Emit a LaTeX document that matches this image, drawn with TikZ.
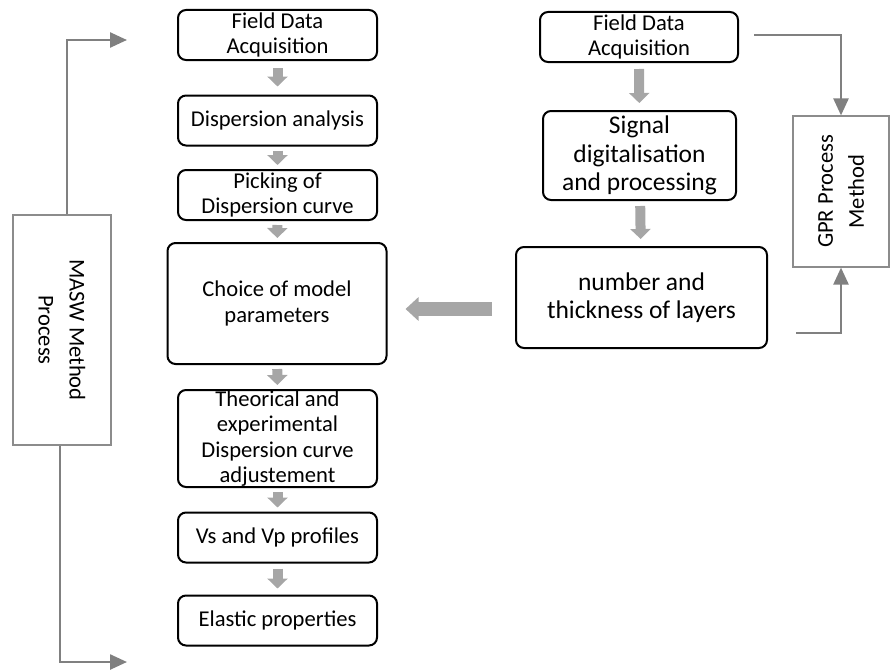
\documentclass[tikz,border=0pt]{standalone}
\usepackage{fontspec}
\setmainfont{Carlito}
\usetikzlibrary{arrows.meta,calc}

\tikzset{
  stage/.style={draw, line width=2pt, rounded corners=8pt, align=center, inner sep=0pt,
    minimum width=199pt, minimum height=50pt, font=\fontsize{22.6}{25.5}\selectfont},
  bigstage/.style={stage, font=\fontsize{25.5}{28.3}\selectfont},
  method/.style={draw=black!45, line width=1.2pt, align=center, inner sep=0pt,
    font=\fontsize{22.6}{31}\selectfont},
  flow/.style={draw=black!35, line width=10pt, -{Triangle[width=20pt,length=10pt]}},
  link/.style={draw=black!50, line width=2.5pt, -{Triangle[width=15pt,length=17pt]}},
}

\begin{document}
\begin{tikzpicture}[x=1pt,y=-1pt]
      \useasboundingbox (0,0) rectangle (890,669);
      % MASW
      \node[stage] (acq) at (277.5,35) {Field Data\\Acquisition};
      \node[stage] (disp) at (277.5,120.5) {Dispersion analysis};
      \node[stage] (pick) at (277.5,195) {Picking of\\Dispersion curve};
      \node[stage, minimum width=219pt, minimum height=121pt] (model) at (277,303.5) {Choice of model\\parameters};
      \node[stage, minimum height=97pt] (fit) at (277.5,438.5) {Theorical and\\experimental\\Dispersion curve\\adjustement};
      \node[stage] (prof) at (277.5,537.5) {Vs and Vp profiles};
      \node[stage] (elas) at (277.5,620.5) {Elastic properties};
      \draw[flow, shorten <=7pt, shorten >=8pt] (acq) -- (disp);
      \foreach \a/\b in {disp/pick, pick/model, model/fit, fit/prof}
        \draw[flow, shorten <=4pt, shorten >=4pt] (\a) -- (\b);
      \draw[flow, shorten <=5pt, shorten >=6pt] (prof) -- (elas);
      \node[method, rotate=-90, minimum width=230pt, minimum height=98pt] (masw) at (62,330) {MASW Method\\Process};
      \coordinate (mtop) at (127,40);
      \coordinate (mbot) at (127,662);
      \draw[link] ([xshift=5pt]masw.west) |- (mtop);
      \draw[link] ([xshift=-2pt]masw.east) |- (mbot);
      % GPR
      \node[stage, minimum width=198pt] (racq) at (639,37) {Field Data\\Acquisition};
      \node[bigstage, minimum width=193pt, minimum height=89pt] (sig) at (639.5,155.5) {Signal\\digitalisation\\and processing};
      \node[bigstage, minimum width=251pt, minimum height=101pt] (layers) at (641.5,297.5) {number and\\thickness of layers};
      \draw[flow, shorten <=6pt, shorten >=7pt] (racq) -- (sig);
      \draw[flow, shorten <=5pt, shorten >=7pt] (sig) -- (layers);
      \node[method, rotate=90, minimum width=151pt, minimum height=96pt] (gpr) at (841,191.5) {GPR Process\\Method};
      \coordinate (gin) at (796,333);
      \draw[link] ([xshift=15pt,yshift=2pt]racq.east) -| (gpr.east);
      \draw[link] (gin) -| (gpr.west);
      % layers to model
      \draw[flow, line width=14pt, -{Triangle[width=23pt,length=13pt]}] ($(layers.west)+(-23,11.5)$) -- ($(model.east)+(18,5.5)$);
\end{tikzpicture}
\end{document}
